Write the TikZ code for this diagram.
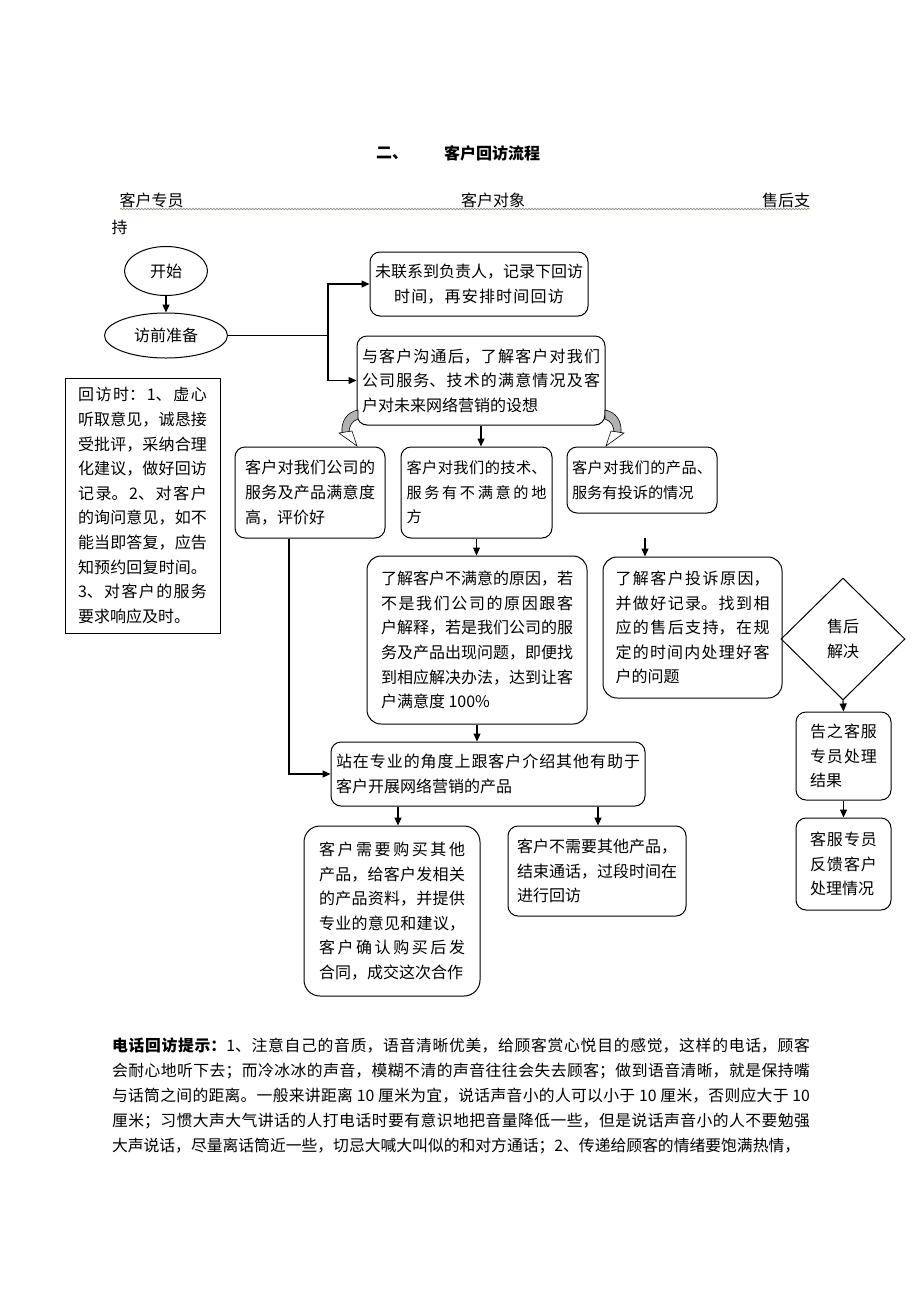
\documentclass[tikz,border=0pt]{standalone}
\usepackage{fontspec}
\setmainfont{Noto Sans CJK SC}
\usetikzlibrary{shapes.geometric,arrows.meta,decorations.pathmorphing}
\XeTeXlinebreaklocale "zh"
\XeTeXlinebreakskip=0pt plus 2pt
\tolerance=9999
\hbadness=10000
\tikzset{
  every node/.style={font=\fontsize{16pt}{24.6pt}\selectfont, inner sep=0pt},
  rbox/.style={draw, line width=1pt, rounded corners=10pt, align=justify},
  sbox/.style={draw, line width=1pt, align=justify},
  oval/.style={draw, line width=1pt, ellipse},
  arr/.style={-{Triangle[length=8pt,width=7pt]}, line width=1.2pt},
  ln/.style={line width=1.2pt},
  band/.style={fill=black!30, draw=black, line width=0.6pt},
  tip/.style={fill=white, draw=black, line width=0.6pt},
  squig/.style={decorate, decoration={snake, amplitude=0.8pt, segment length=3pt}, draw={rgb,255:red,140;green,150;blue,130}, line width=0.7pt},
  small/.style={font=\fontsize{15.2pt}{24.6pt}\selectfont},
}
\begin{document}
\begin{tikzpicture}[x=1pt,y=-1pt]
\useasboundingbox (0,0) rectangle (920,1302);
\fill[white] (0,0) rectangle (920,1302);

% title
\node[font=\fontsize{16pt}{20pt}\selectfont\bfseries] (t1) at (392,153) {二、};
\node[font=\fontsize{16pt}{20pt}\selectfont\bfseries] (t2) at (492,153) {客户回访流程};

% header
\node (h1) at (151.5,200) {客户专员};
\node (h2) at (493,200) {客户对象};
\node (h3) at (786,200) {售后支};
\node (h4) at (119.5,227) {持};
\coordinate (sq1) at (120,209);
\coordinate (sq2) at (810,209);
\draw[squig] (sq1) -- (sq2);

% nodes
\node[oval, minimum width=83pt, minimum height=49pt] (start) at (166,271) {开始};
\node[oval, minimum width=123pt, minimum height=45pt] (prep) at (166,335.5) {访前准备};

\node[rbox, align=center, minimum width=218pt, minimum height=64pt, text width=208pt] (b1) at (479,284)
  {未联系到负责人，记录下回访\\时间，再安排时间回访};
\node[rbox, minimum width=248pt, minimum height=89pt, text width=238pt] (b2) at (481,380.5)
  {与客户沟通后，了解客户对我们\linebreak 公司服务、技术的满意情况及客\linebreak 户对未来网络营销的设想};

\node[sbox, minimum width=155pt, minimum height=255pt, text width=129pt] (note) at (142.5,505.5)
  {回访时：1、虚心\linebreak 听取意见，诚恳接\linebreak 受批评，采纳合理\linebreak 化建议，做好回访\linebreak 记录。2、对客户\linebreak 的询问意见，如不\linebreak 能当即答复，应告\linebreak 知预约回复时间。\linebreak 3、对客户的服务\linebreak 要求响应及时。};

\node[rbox, minimum width=150pt, minimum height=91pt, text width=130pt] (A) at (310,492.5)
  {客户对我们公司的\linebreak 服务及产品满意度\linebreak 高，评价好};
\node[rbox, small, minimum width=151pt, minimum height=91pt, text width=140pt] (B) at (476.5,492.5)
  {客户对我们的技术、\linebreak 服务有不满意的地\linebreak 方};
\node[rbox, small, minimum width=150pt, minimum height=66pt, text width=140pt] (C) at (642,480)
  {客户对我们的产品、\linebreak 服务有投诉的情况};

\node[rbox, rounded corners=14pt, minimum width=220pt, minimum height=168pt, text width=192pt] (E) at (477,640)
  {了解客户不满意的原因，若\linebreak 不是我们公司的原因跟客\linebreak 户解释，若是我们公司的服\linebreak 务及产品出现问题，即便找\linebreak 到相应解决办法，达到让客\linebreak 户满意度 100\%};
\node[rbox, rounded corners=14pt, minimum width=179pt, minimum height=141pt, text width=154pt] (F) at (692.5,627.5)
  {了解客户投诉原因，\linebreak 并做好记录。找到相\linebreak 应的售后支持，在规\linebreak 定的时间内处理好客\linebreak 户的问题};

\node[draw, line width=1pt, diamond, aspect=1, minimum width=124pt, minimum height=122pt, align=center] (dia) at (843,639)
  {售后\\解决};
\node[rbox, minimum width=95pt, minimum height=88pt, text width=67pt] (G) at (843.5,756)
  {告之客服\linebreak 专员处理\linebreak 结果};
\node[rbox, minimum width=95pt, minimum height=92pt, text width=67pt] (H) at (843.5,864)
  {客服专员\linebreak 反馈客户\linebreak 处理情况};

\node[rbox, minimum width=314pt, minimum height=64pt, text width=304pt] (D) at (488,774)
  {站在专业的角度上跟客户介绍其他有助于\linebreak 客户开展网络营销的产品};
\node[rbox, rounded corners=16pt, minimum width=176pt, minimum height=170pt, text width=146pt] (I) at (392,911)
  {客户需要购买其他\linebreak 产品，给客户发相关\linebreak 的产品资料，并提供\linebreak 专业的意见和建议，\linebreak 客户确认购买后发\linebreak 合同，成交这次合作};
\node[rbox, minimum width=178pt, minimum height=90pt, text width=160pt] (J) at (597,871)
  {客户不需要其他产品，\linebreak 结束通话，过段时间在\linebreak 进行回访};

% connectors
\draw[arr] (start) -- (prep);
\coordinate (j1) at (328,335.5);
\draw[ln] (prep.east) -- (j1);
\draw[arr] (j1) |- (b1.west);
\draw[arr] (j1) |- (b2.west);
\draw[arr] (b2.south) -- (b2.south |- B.north);
\draw[arr] ([xshift=-21pt]A.south) |- (D.west);
\draw[arr] (B.south) -- (B.south |- E.north);
\coordinate (cf) at (645,538);
\draw[arr] (cf) -- (cf |- F.north);
\draw[arr] (dia.south) -- (G.north);
\draw[arr] (G.south) -- (H.north);
\draw[arr] (E.south) -- (E.south |- D.north);
\draw[arr] ([xshift=-90pt]D.south) coordinate (d1) -- (d1 |- I.north);
\draw[arr] ([xshift=110pt]D.south) coordinate (d2) -- (d2 |- J.north);

% curved block arrows
\draw[band] (358,410) .. controls (347,412) and (341,421) .. (342,433) -- (349,433) .. controls (349,426) and (352,421) .. (358,419) -- cycle;
\draw[tip] (339,433) -- (352,431) -- (357,446) -- cycle;
\draw[band] (605,410) .. controls (616,412) and (622,421) .. (621,433) -- (614,433) .. controls (614,426) and (611,421) .. (605,419) -- cycle;
\draw[tip] (624,433) -- (611,431) -- (606,446) -- cycle;

% bottom paragraph
\node[align=justify, text width=698pt, font=\fontsize{15.8pt}{25pt}\selectfont] (para) at (461,1096)
  {\parfillskip=0pt {\bfseries 电话回访提示：}1、注意自己的音质，语音清晰优美，给顾客赏心悦目的感觉，这样的电话，顾客\linebreak 会耐心地听下去；而冷冰冰的声音，模糊不清的声音往往会失去顾客；做到语音清晰，就是保持嘴\linebreak 与话筒之间的距离。一般来讲距离 10 厘米为宜，说话声音小的人可以小于 10 厘米，否则应大于 10\linebreak 厘米；习惯大声大气讲话的人打电话时要有意识地把音量降低一些，但是说话声音小的人不要勉强\linebreak 大声说话，尽量离话筒近一些，切忌大喊大叫似的和对方通话；2、传递给顾客的情绪要饱满热情，};
\end{tikzpicture}
\end{document}
